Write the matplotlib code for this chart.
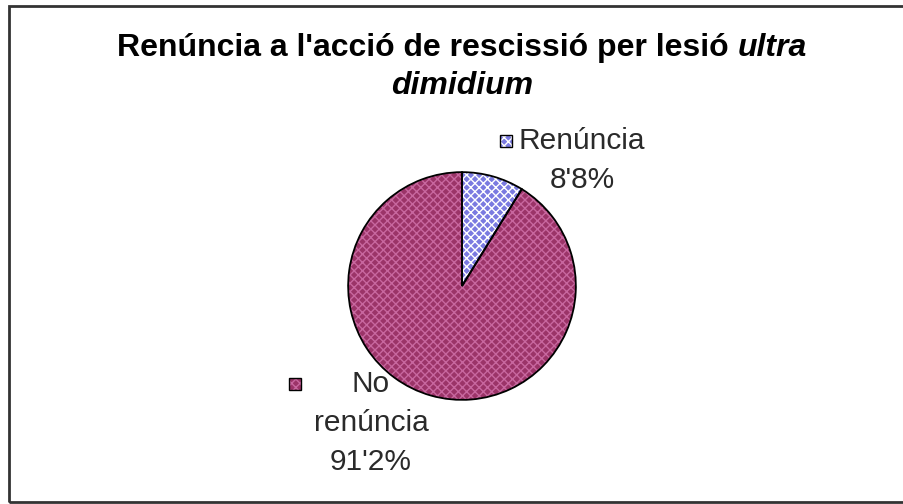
import matplotlib
matplotlib.use("Agg")
import matplotlib.pyplot as plt
from matplotlib.patches import Rectangle

# dades
labels = ["Renúncia", "No\nrenúncia"]
values = [8.8, 91.2]
pct_text = ["8'8%", "91'2%"]
title_main = "Renúncia a l'acció de rescissió per lesió "
title_it1 = "ultra"
title_it2 = "dimidium"

face_cols = ["#7A7AE0", "#9B3468"]
hatch_cols = ["#FFFFFF", "#C8679F"]

plt.rcParams['font.family'] = ['Liberation Sans', 'DejaVu Sans']
plt.rcParams['hatch.linewidth'] = 1.0

W, H = 904, 504
fig = plt.figure(figsize=(W / 100, H / 100), dpi=100)

def fx(px):
    return px / W

def fy(py):
    return 1 - py / H

# marc del gràfic
fig.add_artist(Rectangle((fx(9), fy(502)), fx(905 - 9), (502 - 6) / H,
                         transform=fig.transFigure, fill=False,
                         edgecolor="#333333", linewidth=2))

# pastís
cx, cy, r = 462, 286, 115
ax = fig.add_axes([fx(cx - r), fy(cy + r), 2 * r / W, 2 * r / H])
ax.set_aspect("equal")

wedges, _ = ax.pie(values, startangle=90, counterclock=False, colors=face_cols,
                   wedgeprops=dict(linewidth=0))
for w, hc in zip(wedges, hatch_cols):
    w.set_hatch("xxxx")
    w.set_edgecolor(hc)
ax.pie(values, startangle=90, counterclock=False,
       wedgeprops=dict(fill=False, edgecolor="black", linewidth=1.3))
ax.set_xlim(-1.01, 1.01)
ax.set_ylim(-1.01, 1.01)
ax.axis("off")

# títol (negreta, amb part en cursiva)
fs_title = 23
fig.canvas.draw()
renderer = fig.canvas.get_renderer()
t1 = fig.text(0, fy(48), title_main, fontsize=fs_title, fontweight="bold",
              ha="left", va="center")
t2 = fig.text(0, fy(48), title_it1, fontsize=fs_title, fontweight="bold",
              fontstyle="italic", ha="left", va="center")
w1 = t1.get_window_extent(renderer).width
w2 = t2.get_window_extent(renderer).width
x0 = cx - (w1 + w2) / 2
t1.set_x(fx(x0))
t2.set_x(fx(x0 + w1))
fig.text(fx(cx), fy(86), title_it2, fontsize=fs_title, fontweight="bold",
         fontstyle="italic", ha="center", va="center")

# etiquetes amb clau de llegenda
fs_lab = 21.5
lab_pos = [(582, [141, 180]), (371, [384, 423, 462])]
key_pos = [(506, 141), (295, 384)]
for i in range(2):
    x, ys = lab_pos[i]
    lines = labels[i].split("\n") + [pct_text[i]]
    for line, yy in zip(lines, ys):
        fig.text(fx(x), fy(yy), line, fontsize=fs_lab, ha="center", va="center",
                 color="#2A2A2A")
    kx, ky = key_pos[i]
    s = 12
    fig.add_artist(Rectangle((fx(kx - s / 2), fy(ky + s / 2)), s / W, s / H,
                             transform=fig.transFigure, facecolor=face_cols[i],
                             edgecolor=hatch_cols[i], hatch="xxxx", linewidth=0))
    fig.add_artist(Rectangle((fx(kx - s / 2), fy(ky + s / 2)), s / W, s / H,
                             transform=fig.transFigure, fill=False,
                             edgecolor="black", linewidth=1))

fig.savefig("out.png", dpi=100)
